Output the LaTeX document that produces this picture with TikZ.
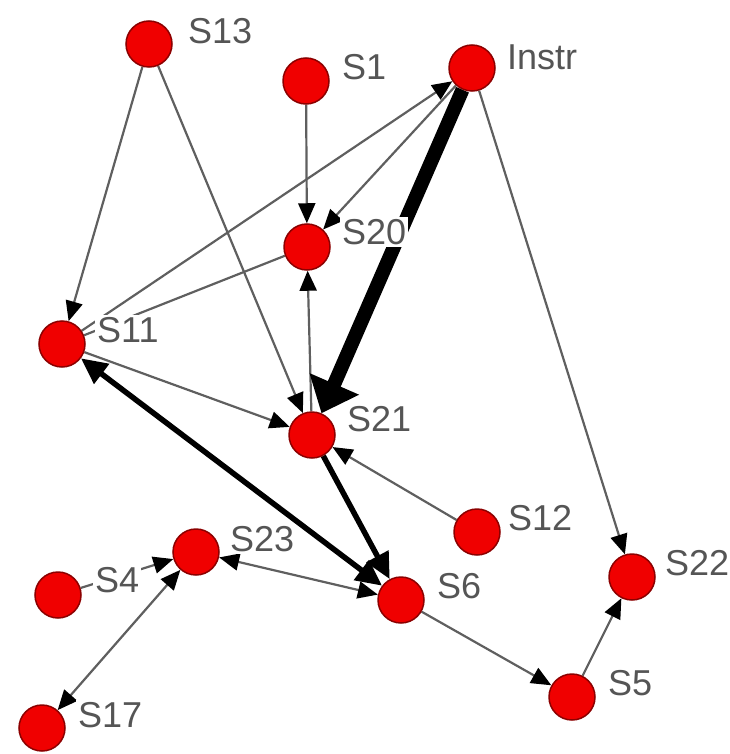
\documentclass[tikz,border=0pt]{standalone}
\usepackage{fontspec}
\setmainfont{Liberation Sans}
\usetikzlibrary{arrows.meta}
\definecolor{nodered}{RGB}{240,0,0}
\definecolor{nodeedge}{RGB}{140,0,0}
\definecolor{labgray}{RGB}{85,85,85}
\definecolor{edgegray}{RGB}{95,95,95}
\pgfdeclarelayer{edges}
\pgfsetlayers{edges,main}
\begin{document}
\begin{tikzpicture}[x=1pt,y=-1pt,
  vert/.style={circle,fill=nodered,draw=nodeedge,line width=1.5pt,minimum size=46pt,inner sep=0pt},
  lab/.style={anchor=west,fill=white,inner sep=2pt,text=labgray,font=\fontsize{36}{36}\selectfont},
  thinedge/.style={draw=edgegray,line width=2.2pt,-{Triangle[length=20pt,width=17pt,color=black]}},
  thinboth/.style={draw=edgegray,line width=2.2pt,{Triangle[length=20pt,width=17pt,color=black]}-{Triangle[length=20pt,width=17pt,color=black]}},
  plainedge/.style={draw=edgegray,line width=2.2pt},
  thickedge/.style={draw=black,line width=5.5pt,-{Triangle[length=26pt,width=24pt]}},
  thickboth/.style={draw=black,line width=5.5pt,{Triangle[length=26pt,width=24pt]}-{Triangle[length=26pt,width=24pt]}},
  vthickedge/.style={draw=black,line width=14pt,-{Triangle[length=32pt,width=52pt]}}
]
\useasboundingbox (0,0) rectangle (729,754);
% vertices
\node[vert] (S13) at (149,44) {};
\node[vert] (S1) at (306,81) {};
\node[vert] (Instr) at (472,68) {};
\node[vert] (S20) at (307,247) {};
\node[vert] (S11) at (62,344) {};
\node[vert] (S21) at (312,435) {};
\node[vert] (S12) at (477,532) {};
\node[vert] (S23) at (196,552) {};
\node[vert] (S4) at (58,595) {};
\node[vert] (S6) at (401,600) {};
\node[vert] (S22) at (632,577) {};
\node[vert] (S5) at (572,697) {};
\node[vert] (S17) at (42,728) {};
% labels
\node[lab] (lS13) at (186,31) {S13};
\node[lab] (lS1) at (340,67) {S1};
\node[lab] (lInstr) at (505,57) {Instr};
\node[lab] (lS20) at (340,232) {S20};
\node[lab] (lS11) at (95,330) {S11};
\node[lab] (lS21) at (345,419) {S21};
\node[lab] (lS12) at (506,518) {S12};
\node[lab] (lS23) at (228,539) {S23};
\node[lab] (lS4) at (93,580) {S4};
\node[lab] (lS6) at (435,586) {S6};
\node[lab] (lS22) at (663,563) {S22};
\node[lab] (lS5) at (606,683) {S5};
\node[lab] (lS17) at (76,715) {S17};
% edges
\begin{pgfonlayer}{edges}
\draw[thinedge] (S13) -- (S11);
\draw[thinedge] (S13) -- (S21);
\draw[thinedge] (S1) -- (S20);
\draw[thinedge] (Instr) -- (S20);
\draw[thinedge] (S11) -- (Instr);
\draw[plainedge] (S20) -- (S11);
\draw[thinedge] (S21) -- (S20);
\draw[thinedge] (S11) -- (S21);
\draw[thinedge] (S12) -- (S21);
\draw[thinboth] (S23) -- (S6);
\draw[thinedge] (S4) -- (S23);
\draw[thinboth] (S17) -- (S23);
\draw[thinedge] (Instr) -- (S22);
\draw[thinedge] (S6) -- (S5);
\draw[thinedge] (S5) -- (S22);
\draw[thickboth] (S11) -- (S6);
\draw[thickedge] (S21) -- (S6);
\draw[vthickedge] (Instr) -- (S21);
\end{pgfonlayer}
\end{tikzpicture}
\end{document}
